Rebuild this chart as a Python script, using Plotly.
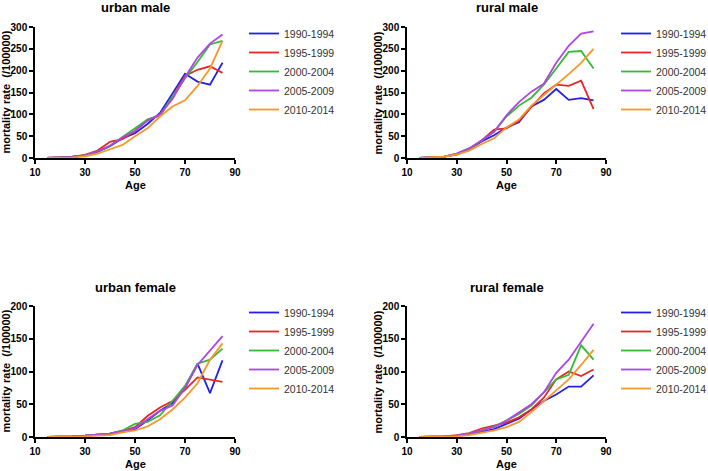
import plotly.graph_objects as go

# age groups (midpoints)
ages = [15, 20, 25, 30, 35, 40, 45, 50, 55, 60, 65, 70, 75, 80, 85]
periods = ["1990-1994", "1995-1999", "2000-2004", "2005-2009", "2010-2014"]
colors = ["#2222e6", "#e82626", "#33bb33", "#b044e6", "#f7962a"]

# mortality rate (/100000)
urban_male_9094 = [1, 1, 3, 6, 14, 27, 45, 57, 78, 103, 148, 193, 175, 168, 218]
urban_male_9599 = [0, 1, 3, 7, 17, 37, 43, 62, 88, 97, 140, 188, 202, 210, 195]
urban_male_0004 = [0, 1, 2, 6, 15, 28, 48, 68, 88, 98, 140, 182, 220, 260, 268]
urban_male_0509 = [0, 1, 2, 6, 15, 28, 47, 62, 85, 100, 135, 185, 230, 262, 283]
urban_male_1014 = [0, 0, 1, 4, 10, 20, 30, 50, 68, 95, 118, 132, 165, 205, 268]

rural_male_9094 = [0, 2, 3, 8, 20, 38, 52, 70, 82, 118, 133, 158, 133, 137, 132]
rural_male_9599 = [0, 1, 3, 9, 20, 40, 65, 68, 85, 117, 148, 168, 165, 177, 112]
rural_male_0004 = [0, 1, 3, 10, 22, 40, 60, 95, 120, 138, 168, 205, 243, 245, 205]
rural_male_0509 = [0, 1, 3, 10, 22, 40, 60, 98, 128, 152, 170, 218, 257, 285, 290]
rural_male_1014 = [0, 1, 3, 8, 17, 32, 45, 70, 88, 120, 145, 168, 192, 218, 250]

urban_female_9094 = [0, 0, 1, 2, 3, 5, 9, 12, 25, 40, 52, 75, 112, 67, 117]
urban_female_9599 = [0, 0, 1, 2, 3, 5, 9, 15, 32, 45, 55, 72, 91, 88, 84]
urban_female_0004 = [0, 0, 1, 2, 3, 5, 10, 20, 23, 33, 55, 78, 112, 118, 135]
urban_female_0509 = [0, 0, 1, 2, 3, 5, 9, 13, 27, 40, 48, 75, 110, 132, 154]
urban_female_1014 = [0, 0, 0, 1, 2, 3, 7, 10, 16, 27, 42, 60, 82, 118, 143]

rural_female_9094 = [0, 0, 1, 2, 4, 8, 12, 20, 28, 42, 55, 65, 77, 77, 94]
rural_female_9599 = [0, 0, 1, 3, 6, 13, 18, 22, 30, 42, 60, 88, 100, 93, 103]
rural_female_0004 = [0, 0, 1, 2, 5, 10, 16, 25, 35, 48, 68, 88, 95, 140, 118]
rural_female_0509 = [0, 0, 1, 2, 5, 10, 15, 25, 38, 50, 68, 98, 118, 145, 173]
rural_female_1014 = [0, 0, 0, 1, 3, 6, 10, 15, 23, 38, 55, 72, 88, 110, 133]

panels = [
    ("urban male", [urban_male_9094, urban_male_9599, urban_male_0004, urban_male_0509, urban_male_1014], 300),
    ("rural male", [rural_male_9094, rural_male_9599, rural_male_0004, rural_male_0509, rural_male_1014], 300),
    ("urban female", [urban_female_9094, urban_female_9599, urban_female_0004, urban_female_0509, urban_female_1014], 200),
    ("rural female", [rural_female_9094, rural_female_9599, rural_female_0004, rural_female_0509, rural_female_1014], 200),
]

W, H = 708, 471
# plot boxes in pixels: left, right, top, bottom
boxes = [(35, 235, 27, 158), (407, 606, 27, 158), (35, 235, 306, 437), (407, 606, 306, 437)]

fig = go.Figure()
font = "Liberation Sans, Arial, sans-serif"
annotations = []

for i, ((title, series, ymax), (l, r, t, b)) in enumerate(zip(panels, boxes)):
    n = "" if i == 0 else str(i + 1)
    leg = "legend" + n
    for name, vals, col in zip(periods, series, colors):
        fig.add_trace(go.Scatter(x=ages, y=vals, name=name, mode="lines",
                                 line=dict(color=col, width=1.8),
                                 xaxis="x" + n, yaxis="y" + n, legend=leg))
    axis_common = dict(showgrid=False, zeroline=False, showline=True, linecolor="black",
                       linewidth=1.5, ticks="outside", ticklen=4, tickwidth=1.5,
                       tickcolor="black",
                       tickfont=dict(family=font, size=10, color="black", weight="bold"))
    # legend text starts ~42px right of the legend's left edge
    legx = 244 if i % 2 == 0 else 616
    fig.update_layout(**{
        "xaxis" + n: dict(axis_common, domain=[l / W, r / W], range=[10, 90],
                          tickvals=[10, 30, 50, 70, 90], anchor="y" + n),
        "yaxis" + n: dict(axis_common, domain=[1 - b / H, 1 - t / H], range=[0, ymax],
                          dtick=50, anchor="x" + n),
        leg: dict(x=legx / W, xanchor="left", y=1 - (t - 8) / H, yanchor="top",
                  font=dict(family=font, size=10.5, color="#333333"),
                  bgcolor="rgba(0,0,0,0)", tracegroupgap=0),
    })
    annotations.append(dict(text=title, x=(l + r) / 2 / W, y=1 - (t - 19) / H,
                            xanchor="center", yanchor="middle",
                            xref="paper", yref="paper", showarrow=False,
                            font=dict(family=font, size=13, color="black", weight="bold")))
    annotations.append(dict(text="Age", x=(l + r) / 2 / W, y=1 - (b + 27) / H,
                            xanchor="center", yanchor="middle",
                            xref="paper", yref="paper", showarrow=False,
                            font=dict(family=font, size=11, color="black", weight="bold")))
    annotations.append(dict(text="mortality rate  (/100000)", x=(l - 30) / W,
                            y=1 - (t + b) / 2 / H, xref="paper", yref="paper",
                            xanchor="center", yanchor="middle",
                            showarrow=False, textangle=-90,
                            font=dict(family=font, size=11, color="black", weight="bold")))

fig.update_layout(width=W, height=H, margin=dict(l=0, r=0, t=0, b=0, autoexpand=False),
                  plot_bgcolor="white", paper_bgcolor="white",
                  annotations=annotations)
fig.write_html("out.html", config={"displayModeBar": False},
               post_script="document.body.style.margin='0';")
